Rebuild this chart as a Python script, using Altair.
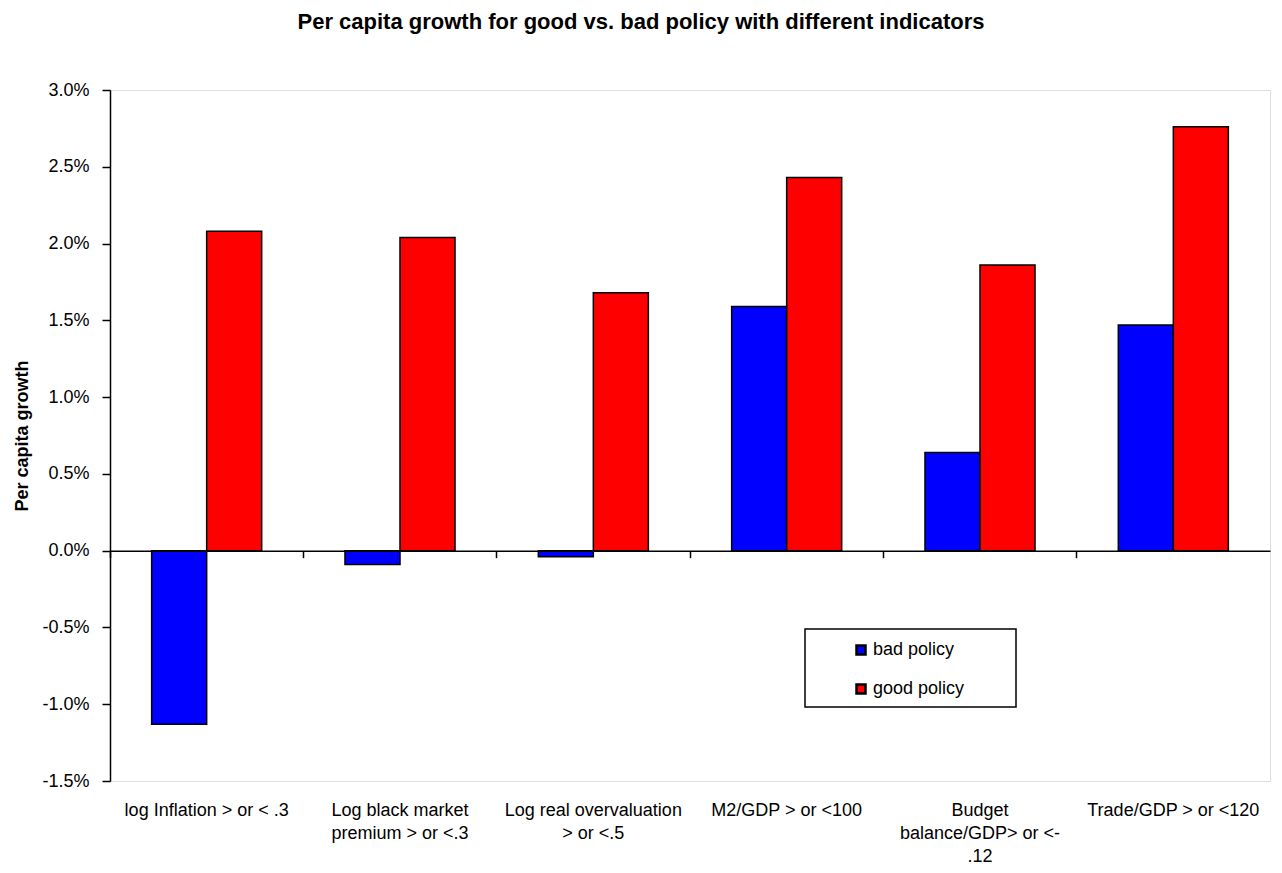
import altair as alt
import pandas as pd

title_text = "Per capita growth for good vs. bad policy with different indicators"
categories = [
    "log Inflation > or < .3",
    "Log black market\npremium > or <.3",
    "Log real overvaluation\n> or <.5",
    "M2/GDP > or <100",
    "Budget\nbalance/GDP> or <-\n.12",
    "Trade/GDP > or <120",
]
bad_policy = [-1.13, -0.09, -0.04, 1.59, 0.64, 1.47]
good_policy = [2.08, 2.04, 1.68, 2.43, 1.86, 2.76]
series = ["bad policy", "good policy"]
colors = ["#0000FF", "#FF0000"]
y_ticks = [-0.015, -0.01, -0.005, 0.0, 0.005, 0.01, 0.015, 0.02, 0.025, 0.03]

rows = []
for c, b, g in zip(categories, bad_policy, good_policy):
    rows.append({"indicator": c, "policy": series[0], "growth": b / 100})
    rows.append({"indicator": c, "policy": series[1], "growth": g / 100})
df = pd.DataFrame(rows)

W, H = 1160, 691
FONT = "Liberation Sans"

x_scale = alt.Scale(paddingInner=0, paddingOuter=0)
y_scale = alt.Scale(domain=[-0.015, 0.03], nice=False, zero=False)
y_axis = alt.Axis(title="Per capita growth", values=y_ticks, format=".1%",
                  labelExpr="replace(datum.label, '\u2212', '-')",
                  grid=False, domainColor="black", domainWidth=1.5,
                  tickColor="black", tickSize=8, tickWidth=1.5,
                  labelFontSize=18, labelFont=FONT, labelColor="black", labelPadding=13,
                  titleFontSize=18, titleFont=FONT, titleFontWeight="bold",
                  titleColor="black", titlePadding=10)

bars = alt.Chart(df).mark_bar(stroke="black", strokeWidth=1.5).encode(
    x=alt.X("indicator:N", sort=categories, scale=x_scale,
            axis=alt.Axis(title=None, labelAngle=0, domain=False, ticks=False, tickSize=0,
                          labelPadding=20, labelFontSize=18, labelFont=FONT,
                          labelColor="black", labelLineHeight=23, labelLimit=300,
                          labelExpr="split(datum.label, '\\n')", grid=False)),
    xOffset=alt.XOffset("policy:N", sort=series,
                        scale=alt.Scale(paddingInner=0, paddingOuter=0.757)),
    y=alt.Y("growth:Q", scale=y_scale, axis=y_axis),
    color=alt.Color("policy:N", sort=series,
                    scale=alt.Scale(domain=series, range=colors),
                    legend=alt.Legend(title=None, orient="none", legendX=742, legendY=551,
                                      symbolType="square", symbolSize=81,
                                      symbolStrokeColor="black", symbolStrokeWidth=2.5,
                                      labelOffset=3,
                                      labelFontSize=18, labelFont=FONT, labelColor="black",
                                      rowPadding=19, padding=0, labelLimit=400)),
)

zero_axis = alt.Chart(df).mark_bar(opacity=0).encode(
    x=alt.X("indicator:N", sort=categories, scale=x_scale,
            axis=alt.Axis(title=None, orient="bottom", offset=-H / 3, labels=False,
                          domain=True, domainColor="black", domainWidth=1.5,
                          ticks=True, tickColor="black", tickSize=7, tickWidth=1.5,
                          bandPosition=0, grid=False, zindex=1)),
    y=alt.Y("growth:Q", scale=y_scale, axis=y_axis),
)

# frame drawn behind the legend entries
legend_frame = alt.Chart(pd.DataFrame({"frame": [0]})).mark_rect(
    fill="white", stroke="black", strokeWidth=1.5
).encode(x=alt.value(695), x2=alt.value(906), y=alt.value(539), y2=alt.value(617))

# chart title, centred on the whole figure above the plot
title_mark = alt.Chart(pd.DataFrame({"title": [title_text]})).mark_text(
    font=FONT, fontSize=22, fontWeight="bold", color="black",
    align="center", baseline="alphabetic"
).encode(text="title:N", x=alt.value(531), y=alt.value(-61))

chart = alt.layer(bars, zero_axis, legend_frame, title_mark).resolve_axis(
    x="independent"
).properties(
    width=W, height=H,
    autosize=alt.AutoSizeParams(type="none"),
    padding={"left": 110, "top": 90, "right": 12, "bottom": 92},
).configure_view(stroke="#808080", strokeWidth=1.5).configure(background="white")

chart.save("out.html", embed_options={"renderer": "svg", "actions": False})
